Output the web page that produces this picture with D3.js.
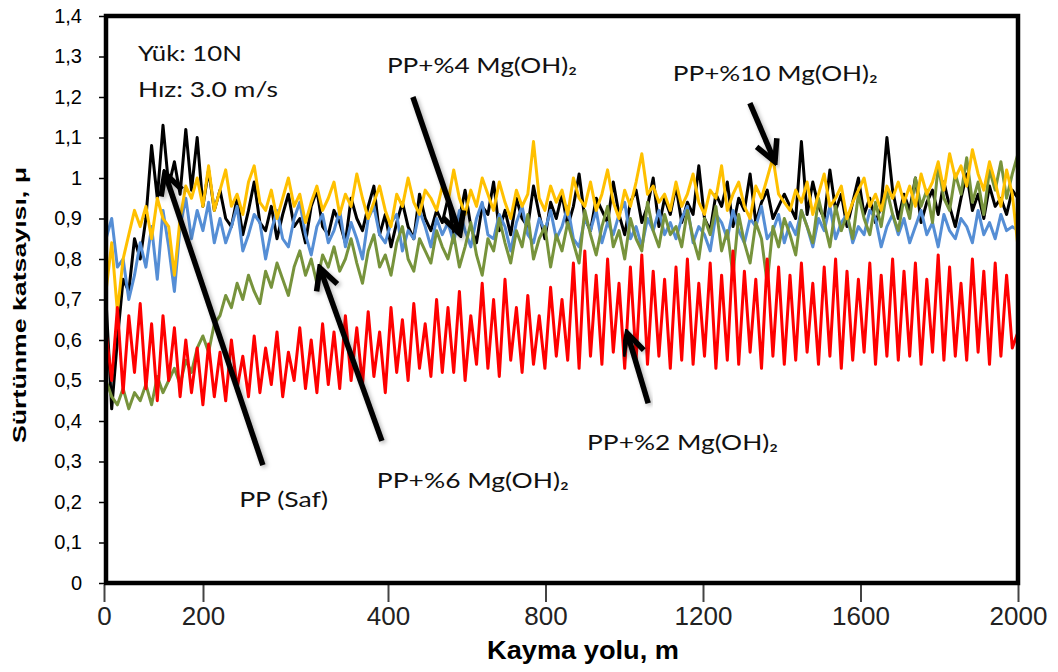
<!DOCTYPE html>
<html>
<head>
<meta charset="utf-8">
<script src="https://cdn.jsdelivr.net/npm/d3@7"></script>
<style>
    body { margin: 0; background: #fff; }
    svg text { font-family: 'Liberation Sans', Arial, sans-serif; }
</style>
</head>
<body>
<svg id="chart"></svg>
<script>
// ölçüm aralığı (m) - her değer bir önceki noktadan 12.5 m sonra
const step = 12.5;

// PP (Saf)
const ppSaf = [
    0.70,0.43,0.60,0.75,0.72,0.85,0.80,0.90,1.08,0.95,1.13,0.98,1.04,0.96,1.12,0.97,1.10,0.93,1.02,0.92,
    0.97,0.90,0.88,0.95,0.86,0.92,0.99,0.89,0.87,0.93,0.85,0.91,0.96,0.88,0.90,0.84,0.93,0.97,0.88,0.86,
    0.92,0.89,0.84,0.95,0.90,0.87,0.93,0.98,0.86,0.91,0.83,0.89,0.94,0.88,0.85,0.96,0.90,0.87,0.92,0.89,
    0.95,0.86,0.90,0.97,0.88,0.84,0.93,0.91,0.99,0.87,0.92,0.86,0.95,0.90,0.88,0.98,0.91,0.85,0.94,0.90,
    0.96,0.88,0.93,1.01,0.90,0.87,0.95,0.92,0.89,0.99,0.91,0.86,0.94,0.97,0.89,0.93,1.00,0.88,0.95,0.91,
    0.98,0.89,0.94,0.91,1.03,0.90,0.87,0.96,0.93,0.99,0.88,0.95,0.92,1.01,0.89,0.94,0.97,0.90,0.93,0.96,
    0.93,0.90,1.09,0.91,0.99,0.93,0.90,1.02,0.92,0.96,0.88,0.94,1.00,0.91,0.95,0.89,0.93,1.10,0.97,0.90,
    0.96,0.92,1.00,0.89,0.94,0.97,0.91,0.99,0.93,0.88,0.95,1.01,0.92,0.96,0.90,0.98,0.93,0.95,0.91,0.97,
    0.95
];

// PP+%2 Mg(OH)2
const pp2 = [
    0.62,0.50,0.68,0.47,0.66,0.52,0.69,0.48,0.64,0.45,0.66,0.50,0.63,0.46,0.60,0.47,0.58,0.44,0.59,0.46,
    0.57,0.45,0.60,0.48,0.56,0.46,0.61,0.47,0.58,0.49,0.62,0.46,0.57,0.50,0.63,0.48,0.60,0.47,0.64,0.49,
    0.62,0.48,0.66,0.50,0.63,0.49,0.67,0.51,0.62,0.47,0.68,0.52,0.65,0.50,0.69,0.53,0.64,0.51,0.70,0.52,
    0.68,0.52,0.72,0.50,0.66,0.54,0.74,0.53,0.70,0.51,0.75,0.55,0.68,0.52,0.71,0.54,0.66,0.53,0.73,0.56,
    0.70,0.55,0.79,0.53,0.82,0.56,0.76,0.54,0.80,0.57,0.74,0.53,0.78,0.55,0.81,0.54,0.77,0.56,0.75,0.53,
    0.78,0.55,0.80,0.54,0.74,0.56,0.79,0.53,0.76,0.55,0.82,0.54,0.77,0.57,0.75,0.53,0.80,0.56,0.78,0.54,
    0.76,0.55,0.79,0.57,0.74,0.54,0.78,0.56,0.80,0.53,0.77,0.55,0.75,0.57,0.79,0.54,0.76,0.56,0.80,0.55,
    0.77,0.56,0.79,0.54,0.75,0.57,0.81,0.55,0.78,0.56,0.74,0.55,0.80,0.57,0.77,0.54,0.79,0.56,0.76,0.58,
    0.62
];

// PP+%4 Mg(OH)2
const pp4 = [
    0.85,0.90,0.78,0.80,0.70,0.76,0.84,0.78,0.88,0.75,0.92,0.83,0.72,0.88,0.95,0.85,0.92,0.87,0.94,0.84,
    0.90,0.84,0.88,0.93,0.82,0.86,0.91,0.89,0.80,0.87,0.92,0.85,0.83,0.90,0.94,0.86,0.81,0.88,0.91,0.84,
    0.87,0.92,0.83,0.89,0.85,0.80,0.90,0.93,0.86,0.84,0.89,0.91,0.82,0.87,0.85,0.92,0.88,0.83,0.90,0.86,
    0.89,0.84,0.92,0.87,0.83,0.90,0.94,0.86,0.85,0.91,0.88,0.82,0.89,0.93,0.86,0.84,0.90,0.87,0.92,0.85,
    0.88,0.93,0.85,0.83,0.90,0.87,0.92,0.84,0.89,0.86,0.91,0.94,0.85,0.88,0.83,0.90,0.87,0.92,0.86,0.89,
    0.85,0.90,0.93,0.84,0.88,0.86,0.82,0.91,0.89,0.85,0.92,0.87,0.84,0.90,0.88,0.93,0.85,0.87,0.91,0.84,
    0.89,0.86,0.92,0.88,0.83,0.90,0.87,0.93,0.85,0.89,0.91,0.84,0.88,0.86,0.92,0.90,0.83,0.88,0.91,0.86,
    0.90,0.84,0.88,0.92,0.86,0.89,0.83,0.91,0.87,0.85,0.90,0.88,0.84,0.92,0.86,0.89,0.85,0.91,0.87,0.88,
    0.87
];

// PP+%6 Mg(OH)2
const pp6 = [
    0.50,0.46,0.44,0.48,0.43,0.47,0.45,0.49,0.44,0.51,0.47,0.50,0.53,0.49,0.55,0.52,0.58,0.61,0.57,0.64,
    0.66,0.71,0.68,0.74,0.70,0.76,0.72,0.69,0.77,0.73,0.79,0.75,0.71,0.78,0.82,0.76,0.80,0.74,0.81,0.78,
    0.83,0.77,0.80,0.85,0.79,0.74,0.82,0.86,0.78,0.81,0.76,0.84,0.88,0.80,0.77,0.85,0.82,0.79,0.87,0.83,
    0.80,0.86,0.78,0.83,0.89,0.81,0.76,0.85,0.82,0.90,0.84,0.79,0.87,0.83,0.91,0.80,0.85,0.88,0.78,0.86,
    0.82,0.89,0.84,0.79,0.92,0.86,0.81,0.88,0.93,0.83,0.87,0.80,0.90,0.85,0.82,0.94,0.87,0.83,0.91,0.86,
    0.88,0.83,0.92,0.85,0.80,0.90,0.86,0.93,0.82,0.87,0.76,0.91,0.84,0.79,0.89,0.85,0.74,0.88,0.83,0.90,
    0.86,0.81,0.92,0.88,0.84,0.95,0.89,0.83,0.93,0.87,0.91,0.85,0.96,0.90,0.86,0.94,0.88,0.97,0.91,0.87,
    0.95,0.90,1.00,0.93,0.97,0.89,1.03,0.95,0.92,1.01,0.96,1.05,0.94,0.99,0.91,1.02,0.97,1.04,0.95,1.01,
    1.06
];

// PP+%10 Mg(OH)2
const pp10 = [
    0.72,0.84,0.67,0.80,0.86,0.92,0.88,0.93,0.85,0.95,0.90,0.88,0.76,0.90,0.98,0.95,1.00,0.93,1.03,0.92,
    0.97,1.02,0.93,0.96,0.91,0.99,1.03,0.94,0.92,0.97,0.90,0.95,1.00,0.93,0.96,0.89,0.94,0.98,0.92,0.95,
    0.99,0.91,0.96,0.93,1.01,0.95,0.90,0.94,0.98,0.92,0.88,0.96,0.93,1.00,0.94,0.91,0.97,0.95,0.92,0.98,
    0.94,1.02,0.95,0.91,0.97,0.93,1.00,0.96,0.92,0.99,0.94,0.90,0.97,0.93,0.96,1.09,0.95,0.92,0.98,0.94,
    0.97,0.91,1.00,0.95,0.93,0.99,0.92,0.96,1.02,0.94,0.90,0.97,0.93,0.99,1.06,0.96,0.98,0.94,0.96,0.92,
    0.99,0.93,0.96,1.01,0.94,0.91,0.97,0.95,1.03,0.92,0.96,0.99,0.93,0.90,0.98,0.95,1.00,1.05,0.96,0.94,
    0.92,0.97,0.94,0.99,0.91,0.96,1.01,0.93,0.95,0.98,0.90,0.94,0.97,1.00,0.93,0.96,0.92,0.98,0.95,0.99,
    0.94,0.98,0.93,1.01,0.96,0.99,1.04,0.97,1.06,1.00,1.03,0.98,1.07,1.01,0.97,1.04,0.99,0.93,1.02,0.96,
    0.83
];

// çizim sırası (alttan üste)
const seriesNames = ['PP (Saf)', 'PP+%4 Mg(OH)₂', 'PP+%6 Mg(OH)₂', 'PP+%10 Mg(OH)₂', 'PP+%2 Mg(OH)₂'];
const seriesValues = [ppSaf, pp4, pp6, pp10, pp2];
const seriesColors = ['#000000', '#558ED5', '#77933C', '#FFC000', '#FF0000'];

const xTicks = [0, 200, 400, 800, 1200, 1600, 2000];
const yTicks = [0, 0.1, 0.2, 0.3, 0.4, 0.5, 0.6, 0.7, 0.8, 0.9, 1.0, 1.1, 1.2, 1.3, 1.4];

// etiketler ve oklar (veri biriminde: m, μ)
const notes = [
    {text: 'Yük: 10N',        x: 70,   y: 1.289, len: 104},
    {text: 'Hız: 3.0 m/s',    x: 70,   y: 1.200, len: 140},
    {text: 'PP+%4 Mg(OH)₂',   x: 616,  y: 1.259, len: 190},
    {text: 'PP+%10 Mg(OH)₂',  x: 1243, y: 1.240, len: 205},
    {text: 'PP (Saf)',        x: 292,  y: 0.188, len: 89},
    {text: 'PP+%6 Mg(OH)₂',   x: 594,  y: 0.235, len: 192},
    {text: 'PP+%2 Mg(OH)₂',   x: 1055, y: 0.328, len: 191}
];
const arrows = [
    {from: [344, 0.291],  to: [129, 1.012]},
    {from: [605, 0.351],  to: [469, 0.778]},
    {from: [673, 1.200],  to: [776, 0.862]},
    {from: [1412, 1.185], to: [1467, 1.040]},
    {from: [1189, 0.444], to: [1143, 0.617]}
];

class LineChart {
    constructor (config) {
        this.config = {
            parent: config.parent,
            width: config.width || 256,
            height: config.height || 256,
            margin: config.margin || {top:10, right:10, bottom:10, left:10},
            xlabel: config.xlabel || '',
            ylabel: config.ylabel || ''
        };
        this.init();
    }

    init() {
        let self = this;

        self.svg = d3.select(self.config.parent)
            .attr('width', self.config.width)
            .attr('height', self.config.height);

        self.chart = self.svg.append('g')
            .attr('transform', `translate(${self.config.margin.left}, ${self.config.margin.top})`);

        self.inner_width = self.config.width - self.config.margin.left - self.config.margin.right;
        self.inner_height = self.config.height - self.config.margin.top - self.config.margin.bottom;

        self.xscale = d3.scaleLinear()
            .domain([0, 2000])
            .range([0, self.inner_width]);

        // eksen etiketleri orijinalde eşit aralıklı değil
        self.xtickscale = d3.scaleLinear()
            .domain([0, 200, 400, 2000])
            .range([-2, 97, 282, self.inner_width]);

        self.yscale = d3.scaleLinear()
            .domain([0, 1.4])
            .range([self.inner_height, 0]);

        const defs = self.svg.append('defs');
        defs.append('clipPath')
            .attr('id', 'clip')
            .append('rect')
            .attr('width', self.inner_width)
            .attr('height', self.inner_height);

        defs.append('marker')
            .attr('id', 'head')
            .attr('viewBox', '-26 -15 30 30')
            .attr('markerWidth', 30)
            .attr('markerHeight', 30)
            .attr('markerUnits', 'userSpaceOnUse')
            .attr('orient', 'auto')
            .append('path')
            .attr('d', 'M-21,-11 L0,0 L-21,11')
            .attr('fill', 'none')
            .attr('stroke', '#000')
            .attr('stroke-width', 5.5);

        const shadow = defs.append('filter')
            .attr('id', 'shadow')
            .attr('x', '-20%').attr('y', '-20%')
            .attr('width', '140%').attr('height', '140%');
        shadow.append('feDropShadow')
            .attr('dx', 2).attr('dy', 2)
            .attr('stdDeviation', 2)
            .attr('flood-opacity', 0.3);

        self.line_group = self.chart.append('g')
            .attr('clip-path', 'url(#clip)');

        self.xaxis = d3.axisBottom(self.xtickscale)
            .tickValues(xTicks)
            .tickSize(17)
            .tickPadding(5)
            .tickFormat(d3.format('d'));

        self.yaxis = d3.axisLeft(self.yscale)
            .tickValues(yTicks)
            .tickSize(6)
            .tickPadding(17)
            .tickFormat(d => d3.format('.1~f')(d).replace('.', ','));

        self.xaxis_group = self.chart.append('g')
            .attr('transform', `translate(0, ${self.inner_height + 2})`);

        self.yaxis_group = self.chart.append('g')
            .attr('transform', 'translate(-1, 0)');

        self.svg.append('text')
            .attr('x', 583)
            .attr('y', 659)
            .attr('text-anchor', 'middle')
            .attr('textLength', 192)
            .attr('lengthAdjust', 'spacingAndGlyphs')
            .style('font-size', '26px')
            .style('font-weight', 'bold')
            .text(self.config.xlabel);

        self.svg.append('text')
            .attr('transform', 'translate(26, 305) rotate(-90)')
            .attr('text-anchor', 'middle')
            .attr('textLength', 276)
            .attr('lengthAdjust', 'spacingAndGlyphs')
            .style('font-size', '19px')
            .style('font-weight', 'bold')
            .text(self.config.ylabel);
    }

    render() {
        let self = this;

        const line = d3.line()
            .x((d, i) => self.xscale(i * step))
            .y(d => self.yscale(d));

        self.line_group.selectAll('path')
            .data(seriesValues)
            .join('path')
            .attr('d', d => line(d))
            .attr('fill', 'none')
            .attr('stroke', (d, i) => seriesColors[i])
            .attr('stroke-width', 3)
            .attr('stroke-linejoin', 'round');

        // çerçeve
        self.chart.append('rect')
            .attr('width', self.inner_width)
            .attr('height', self.inner_height)
            .attr('fill', 'none')
            .attr('stroke', '#000')
            .attr('stroke-width', 4.5);

        self.xaxis_group.call(self.xaxis);
        self.xaxis_group.select('.domain').remove();
        self.xaxis_group.selectAll('line')
            .attr('stroke', '#444')
            .attr('stroke-width', 2);
        self.xaxis_group.selectAll('text')
            .style('font-size', '26px')
            .attr('fill', '#222');

        self.yaxis_group.call(self.yaxis);
        self.yaxis_group.select('.domain').remove();
        self.yaxis_group.selectAll('line')
            .attr('stroke', '#000')
            .attr('stroke-width', 1.5);
        self.yaxis_group.selectAll('text')
            .style('font-size', '20px')
            .attr('fill', '#000');

        self.chart.append('g')
            .selectAll('line')
            .data(arrows)
            .join('line')
            .attr('x1', d => self.xscale(d.from[0]))
            .attr('y1', d => self.yscale(d.from[1]))
            .attr('x2', d => self.xscale(d.to[0]))
            .attr('y2', d => self.yscale(d.to[1]))
            .attr('stroke', '#000')
            .attr('stroke-width', 5.5)
            .attr('marker-end', 'url(#head)')
            .attr('filter', 'url(#shadow)');

        self.chart.append('g')
            .selectAll('text')
            .data(notes)
            .join('text')
            .attr('x', d => self.xscale(d.x))
            .attr('y', d => self.yscale(d.y))
            .attr('textLength', d => d.len)
            .attr('lengthAdjust', 'spacingAndGlyphs')
            .style('font-family', "Lato, 'Noto Sans', sans-serif")
            .style('font-size', '22px')
            .attr('fill', '#111')
            .text(d => d.text);
    }
}

const chart = new LineChart({
    parent: '#chart',
    width: 1058,
    height: 672,
    margin: {top: 16, right: 40, bottom: 89, left: 106},
    xlabel: 'Kayma yolu, m',
    ylabel: 'Sürtünme katsayısı, μ'
});
chart.render();
</script>
</body>
</html>
